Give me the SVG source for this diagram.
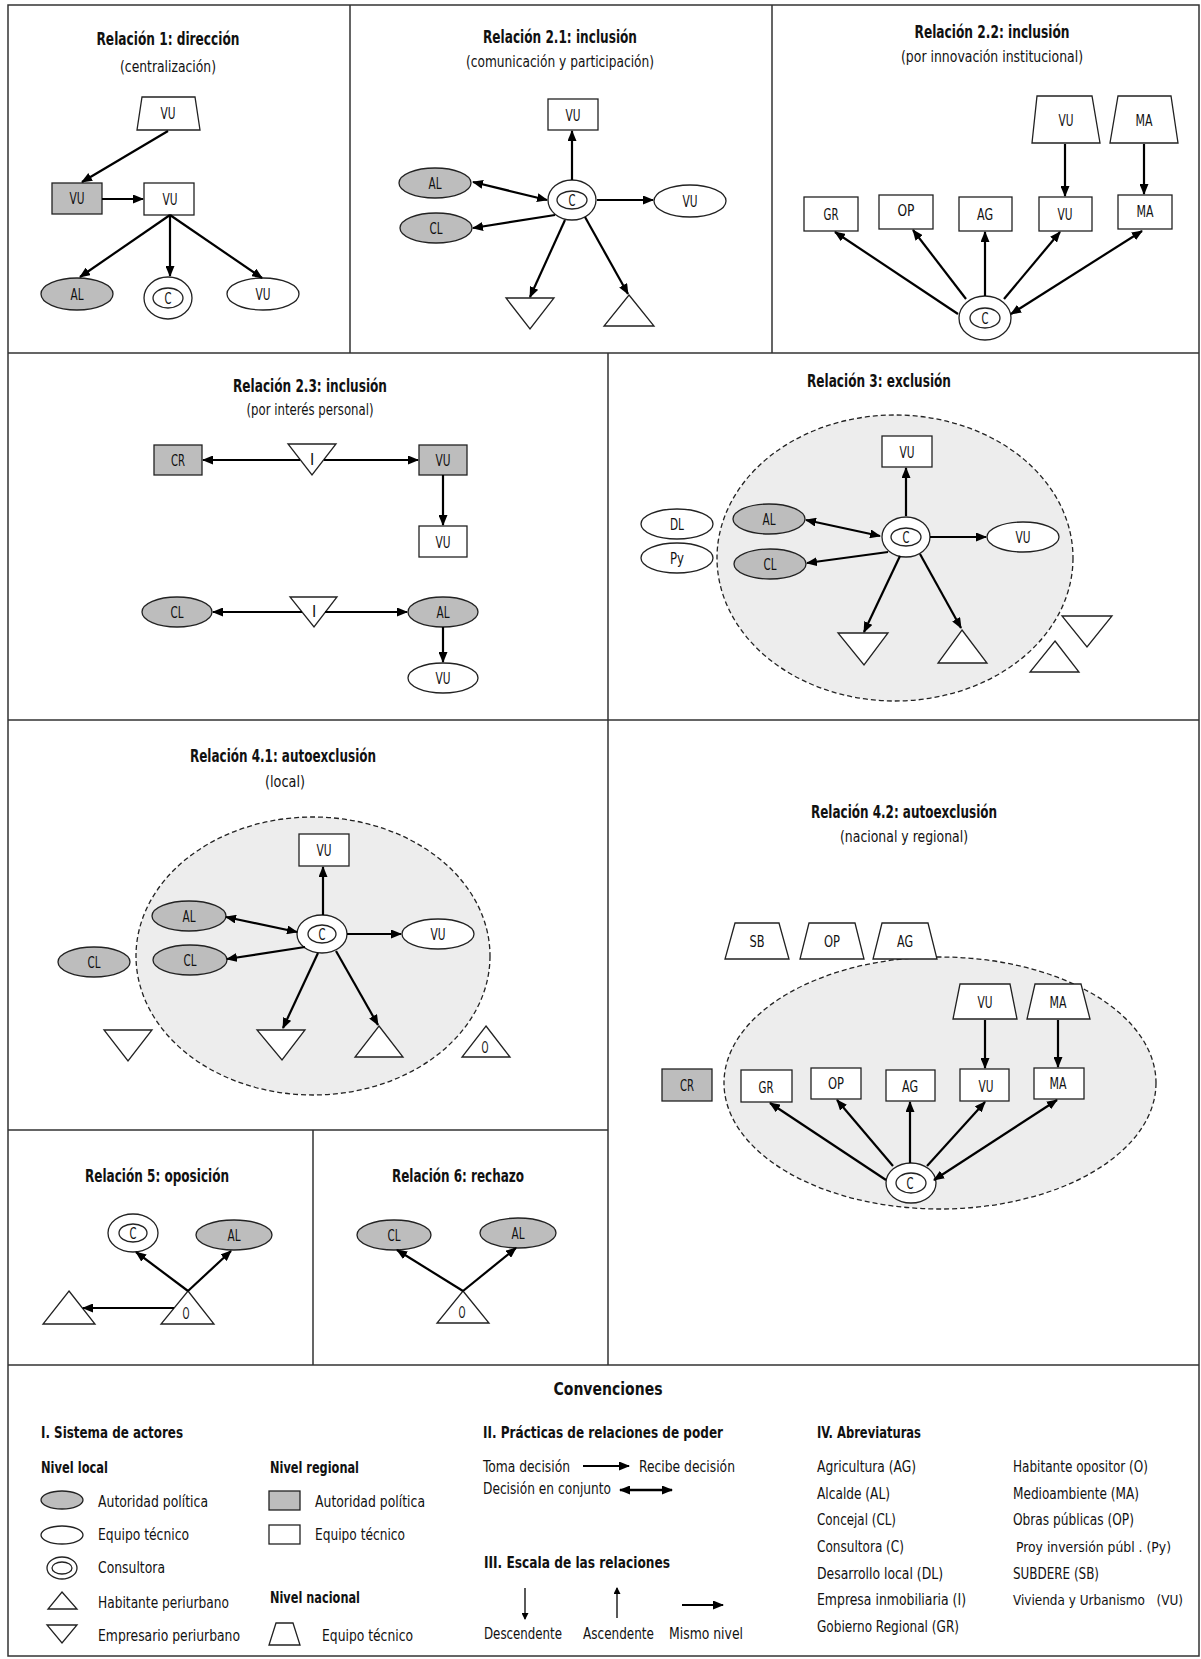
<svg xmlns="http://www.w3.org/2000/svg" width="1201" height="1659" viewBox="0 0 1201 1659">
<style>
.frame{fill:none;stroke:#333;stroke-width:1.5}
.n{fill:#fff;stroke:#222;stroke-width:1.3}
.g{fill:#bdbdbd;stroke:#222;stroke-width:1.3}
.zone{fill:#ededed;stroke:#222;stroke-width:1.3;stroke-dasharray:5 3}
.e{fill:none;stroke:#000;stroke-width:2.2;marker-end:url(#ah)}
.b{fill:none;stroke:#000;stroke-width:2.2;marker-start:url(#ahs);marker-end:url(#ah)}
.s{fill:none;stroke:#000;stroke-width:1.3;marker-end:url(#ahsm)}
text{font-family:"Liberation Sans Narrow","DejaVu Sans Condensed","Liberation Sans",sans-serif;fill:#111}
.l{font-size:16px;text-anchor:middle}
.ti{font-size:17px;font-weight:bold;text-anchor:middle}
.su{font-size:15px;text-anchor:middle}
.lg{font-size:15.5px}
.lh{font-size:16.5px;font-weight:bold}
.lh2{font-size:15.5px;font-weight:bold}
</style>
<defs>
<marker id="ah" markerUnits="userSpaceOnUse" markerWidth="11" markerHeight="9" refX="10" refY="4.5" orient="auto"><path d="M0,0 L11,4.5 L0,9 z" fill="#000"/></marker>
<marker id="ahs" markerUnits="userSpaceOnUse" markerWidth="11" markerHeight="9" refX="10" refY="4.5" orient="auto-start-reverse"><path d="M0,0 L11,4.5 L0,9 z" fill="#000"/></marker>
<marker id="ahsm" markerUnits="userSpaceOnUse" markerWidth="7" markerHeight="7" refX="6" refY="3.5" orient="auto"><path d="M0,0 L7,3.5 L0,7 z" fill="#000"/></marker>
</defs>
<rect width="1201" height="1659" fill="#fff"/>

<g id="frame">
<rect class="frame" x="8" y="5" width="1191" height="1651"/>
<path class="frame" d="M8,353H1199M350,5V353M772,5V353M8,720H1199M608,353V1365M8,1130H608M313,1130V1365M8,1365H1199"/>
</g>

<g id="titles">
<text class="ti" x="168" y="45" textLength="143" lengthAdjust="spacingAndGlyphs">Relación 1: dirección</text>
<text class="su" x="168" y="72" textLength="96" lengthAdjust="spacingAndGlyphs">(centralización)</text>
<text class="ti" x="560" y="43" textLength="154" lengthAdjust="spacingAndGlyphs">Relación 2.1: inclusión</text>
<text class="su" x="560" y="67" textLength="188" lengthAdjust="spacingAndGlyphs">(comunicación y participación)</text>
<text class="ti" x="992" y="38" textLength="155" lengthAdjust="spacingAndGlyphs">Relación 2.2: inclusión</text>
<text class="su" x="992" y="62" textLength="182" lengthAdjust="spacingAndGlyphs">(por innovación institucional)</text>
<text class="ti" x="310" y="392" textLength="154" lengthAdjust="spacingAndGlyphs">Relación 2.3: inclusión</text>
<text class="su" x="310" y="415" textLength="127" lengthAdjust="spacingAndGlyphs">(por interés personal)</text>
<text class="ti" x="879" y="387" textLength="144" lengthAdjust="spacingAndGlyphs">Relación 3: exclusión</text>
<text class="ti" x="283" y="762" textLength="186" lengthAdjust="spacingAndGlyphs">Relación 4.1: autoexclusión</text>
<text class="su" x="285" y="787" textLength="40" lengthAdjust="spacingAndGlyphs">(local)</text>
<text class="ti" x="904" y="818" textLength="186" lengthAdjust="spacingAndGlyphs">Relación 4.2: autoexclusión</text>
<text class="su" x="904" y="842" textLength="128" lengthAdjust="spacingAndGlyphs">(nacional y regional)</text>
<text class="ti" x="157" y="1182" textLength="144" lengthAdjust="spacingAndGlyphs">Relación 5: oposición</text>
<text class="ti" x="458" y="1182" textLength="132" lengthAdjust="spacingAndGlyphs">Relación 6: rechazo</text>
</g>

<g id="zones">
<ellipse class="zone" cx="895" cy="558" rx="178" ry="143"/>
<ellipse class="zone" cx="313" cy="956" rx="177" ry="139"/>
<ellipse class="zone" cx="940" cy="1083" rx="216" ry="126"/>
</g>

<!-- Relación 1 -->
<g id="r1-vu-nac"><polygon class="n" points="142,97 195,97 200,130 137,130"/><text class="l" x="168" y="119" textLength="15" lengthAdjust="spacingAndGlyphs">VU</text></g>
<g id="r1-vu-reg-gray"><rect class="g" x="52" y="183" width="50" height="31"/><text class="l" x="77" y="204" textLength="15" lengthAdjust="spacingAndGlyphs">VU</text></g>
<g id="r1-vu-reg"><rect class="n" x="144" y="183" width="50" height="32"/><text class="l" x="170" y="205" textLength="15" lengthAdjust="spacingAndGlyphs">VU</text></g>
<g id="r1-al"><ellipse class="g" cx="77" cy="294" rx="36" ry="16"/><text class="l" x="77" y="300" textLength="13" lengthAdjust="spacingAndGlyphs">AL</text></g>
<g id="r1-c"><ellipse class="n" cx="168" cy="298" rx="24" ry="21"/><ellipse class="n" cx="168" cy="298" rx="15" ry="10"/><text class="l" x="168" y="304" textLength="7" lengthAdjust="spacingAndGlyphs">C</text></g>
<g id="r1-vu-loc"><ellipse class="n" cx="263" cy="294" rx="36" ry="16"/><text class="l" x="263" y="300" textLength="15" lengthAdjust="spacingAndGlyphs">VU</text></g>

<!-- Relación 2.1 -->
<g id="r21-vu-reg"><rect class="n" x="548" y="99" width="50" height="31"/><text class="l" x="573" y="121" textLength="15" lengthAdjust="spacingAndGlyphs">VU</text></g>
<g id="r21-c"><ellipse class="n" cx="572" cy="200" rx="24" ry="20"/><ellipse class="n" cx="572" cy="200" rx="15" ry="9"/><text class="l" x="572" y="206" textLength="7" lengthAdjust="spacingAndGlyphs">C</text></g>
<g id="r21-al"><ellipse class="g" cx="435" cy="183" rx="36" ry="15"/><text class="l" x="435" y="189" textLength="13" lengthAdjust="spacingAndGlyphs">AL</text></g>
<g id="r21-cl"><ellipse class="g" cx="436" cy="228" rx="36" ry="15"/><text class="l" x="436" y="234" textLength="13" lengthAdjust="spacingAndGlyphs">CL</text></g>
<g id="r21-vu-loc"><ellipse class="n" cx="690" cy="201" rx="36" ry="16"/><text class="l" x="690" y="207" textLength="15" lengthAdjust="spacingAndGlyphs">VU</text></g>
<g id="r21-emp"><polygon class="n" points="506,298 554,298 530,329"/></g>
<g id="r21-hab"><polygon class="n" points="629,295 654,326 604,326"/></g>

<!-- Relación 2.2 -->
<g id="r22-vu-nac"><polygon class="n" points="1037,96 1092,96 1100,143 1032,143"/><text class="l" x="1066" y="126" textLength="15" lengthAdjust="spacingAndGlyphs">VU</text></g>
<g id="r22-ma-nac"><polygon class="n" points="1118,96 1171,96 1178,143 1110,143"/><text class="l" x="1144" y="126" textLength="17" lengthAdjust="spacingAndGlyphs">MA</text></g>
<g id="r22-gr"><rect class="n" x="804" y="197" width="54" height="34"/><text class="l" x="831" y="220" textLength="15" lengthAdjust="spacingAndGlyphs">GR</text></g>
<g id="r22-op"><rect class="n" x="879" y="195" width="54" height="34"/><text class="l" x="906" y="216" textLength="17" lengthAdjust="spacingAndGlyphs">OP</text></g>
<g id="r22-ag"><rect class="n" x="959" y="197" width="53" height="34"/><text class="l" x="985" y="220" textLength="16" lengthAdjust="spacingAndGlyphs">AG</text></g>
<g id="r22-vu"><rect class="n" x="1039" y="197" width="53" height="34"/><text class="l" x="1065" y="220" textLength="15" lengthAdjust="spacingAndGlyphs">VU</text></g>
<g id="r22-ma"><rect class="n" x="1118" y="195" width="54" height="34"/><text class="l" x="1145" y="217" textLength="17" lengthAdjust="spacingAndGlyphs">MA</text></g>
<g id="r22-c"><ellipse class="n" cx="985" cy="318" rx="26" ry="22"/><ellipse class="n" cx="985" cy="318" rx="15" ry="10"/><text class="l" x="985" y="324" textLength="7" lengthAdjust="spacingAndGlyphs">C</text></g>

<!-- Relación 2.3 -->
<g id="r23-cr"><rect class="g" x="154" y="445" width="48" height="30"/><text class="l" x="178" y="466" textLength="14" lengthAdjust="spacingAndGlyphs">CR</text></g>
<g id="r23-i1"><polygon class="n" points="288,444 336,444 312,475"/><text class="l" x="312" y="465">I</text></g>
<g id="r23-vu-gray"><rect class="g" x="419" y="445" width="48" height="30"/><text class="l" x="443" y="466" textLength="15" lengthAdjust="spacingAndGlyphs">VU</text></g>
<g id="r23-vu-reg"><rect class="n" x="419" y="526" width="48" height="31"/><text class="l" x="443" y="548" textLength="15" lengthAdjust="spacingAndGlyphs">VU</text></g>
<g id="r23-cl"><ellipse class="g" cx="177" cy="612" rx="35" ry="15"/><text class="l" x="177" y="618" textLength="13" lengthAdjust="spacingAndGlyphs">CL</text></g>
<g id="r23-i2"><polygon class="n" points="290,597 337,597 314,627"/><text class="l" x="314" y="617">I</text></g>
<g id="r23-al"><ellipse class="g" cx="443" cy="612" rx="35" ry="15"/><text class="l" x="443" y="618" textLength="13" lengthAdjust="spacingAndGlyphs">AL</text></g>
<g id="r23-vu-loc"><ellipse class="n" cx="443" cy="678" rx="35" ry="15"/><text class="l" x="443" y="684" textLength="15" lengthAdjust="spacingAndGlyphs">VU</text></g>

<!-- Relación 3 -->
<g id="r3-vu-reg"><rect class="n" x="882" y="436" width="50" height="31"/><text class="l" x="907" y="458" textLength="15" lengthAdjust="spacingAndGlyphs">VU</text></g>
<g id="r3-c"><ellipse class="n" cx="906" cy="537" rx="24" ry="20"/><ellipse class="n" cx="906" cy="537" rx="15" ry="9"/><text class="l" x="906" y="543" textLength="7" lengthAdjust="spacingAndGlyphs">C</text></g>
<g id="r3-al"><ellipse class="g" cx="769" cy="519" rx="36" ry="15"/><text class="l" x="769" y="525" textLength="13" lengthAdjust="spacingAndGlyphs">AL</text></g>
<g id="r3-cl"><ellipse class="g" cx="770" cy="564" rx="36" ry="15"/><text class="l" x="770" y="570" textLength="13" lengthAdjust="spacingAndGlyphs">CL</text></g>
<g id="r3-vu-loc"><ellipse class="n" cx="1023" cy="537" rx="36" ry="15"/><text class="l" x="1023" y="543" textLength="15" lengthAdjust="spacingAndGlyphs">VU</text></g>
<g id="r3-emp"><polygon class="n" points="838,633 888,633 864,665"/></g>
<g id="r3-hab"><polygon class="n" points="962,630 987,663 938,663"/></g>
<g id="r3-dl"><ellipse class="n" cx="677" cy="524" rx="36" ry="15"/><text class="l" x="677" y="530" textLength="14" lengthAdjust="spacingAndGlyphs">DL</text></g>
<g id="r3-py"><ellipse class="n" cx="677" cy="558" rx="36" ry="15"/><text class="l" x="677" y="564" textLength="14" lengthAdjust="spacingAndGlyphs">Py</text></g>
<g id="r3-emp-out"><polygon class="n" points="1062,616 1112,616 1087,647"/></g>
<g id="r3-hab-out"><polygon class="n" points="1055,641 1079,672 1030,672"/></g>

<!-- Relación 4.1 -->
<g id="r41-vu-reg"><rect class="n" x="299" y="834" width="50" height="32"/><text class="l" x="324" y="856" textLength="15" lengthAdjust="spacingAndGlyphs">VU</text></g>
<g id="r41-c"><ellipse class="n" cx="322" cy="934" rx="25" ry="19"/><ellipse class="n" cx="322" cy="934" rx="14" ry="9"/><text class="l" x="322" y="940" textLength="7" lengthAdjust="spacingAndGlyphs">C</text></g>
<g id="r41-al"><ellipse class="g" cx="189" cy="916" rx="37" ry="15"/><text class="l" x="189" y="922" textLength="13" lengthAdjust="spacingAndGlyphs">AL</text></g>
<g id="r41-cl"><ellipse class="g" cx="190" cy="960" rx="37" ry="15"/><text class="l" x="190" y="966" textLength="13" lengthAdjust="spacingAndGlyphs">CL</text></g>
<g id="r41-vu-loc"><ellipse class="n" cx="438" cy="934" rx="36" ry="15"/><text class="l" x="438" y="940" textLength="15" lengthAdjust="spacingAndGlyphs">VU</text></g>
<g id="r41-emp"><polygon class="n" points="257,1030 305,1030 282,1060"/></g>
<g id="r41-hab"><polygon class="n" points="379,1026 403,1057 355,1057"/></g>
<g id="r41-cl-out"><ellipse class="g" cx="94" cy="962" rx="36" ry="15"/><text class="l" x="94" y="968" textLength="13" lengthAdjust="spacingAndGlyphs">CL</text></g>
<g id="r41-emp-out"><polygon class="n" points="104,1030 152,1030 128,1061"/></g>
<g id="r41-o"><polygon class="n" points="486,1026 510,1057 462,1057"/><text class="l" x="485" y="1053" textLength="7" lengthAdjust="spacingAndGlyphs">O</text></g>

<!-- Relación 4.2 -->
<g id="r42-sb"><polygon class="n" points="735,923 779,923 789,959 725,959"/><text class="l" x="757" y="947" textLength="15" lengthAdjust="spacingAndGlyphs">SB</text></g>
<g id="r42-op-nac"><polygon class="n" points="809,923 855,923 864,959 800,959"/><text class="l" x="832" y="947" textLength="16" lengthAdjust="spacingAndGlyphs">OP</text></g>
<g id="r42-ag-nac"><polygon class="n" points="882,923 928,923 937,959 873,959"/><text class="l" x="905" y="947" textLength="16" lengthAdjust="spacingAndGlyphs">AG</text></g>
<g id="r42-vu-nac"><polygon class="n" points="960,984 1010,984 1017,1019 953,1019"/><text class="l" x="985" y="1008" textLength="15" lengthAdjust="spacingAndGlyphs">VU</text></g>
<g id="r42-ma-nac"><polygon class="n" points="1035,984 1081,984 1090,1019 1027,1019"/><text class="l" x="1058" y="1008" textLength="17" lengthAdjust="spacingAndGlyphs">MA</text></g>
<g id="r42-cr"><rect class="g" x="662" y="1069" width="50" height="32"/><text class="l" x="687" y="1091" textLength="14" lengthAdjust="spacingAndGlyphs">CR</text></g>
<g id="r42-gr"><rect class="n" x="741" y="1070" width="51" height="32"/><text class="l" x="766" y="1093" textLength="15" lengthAdjust="spacingAndGlyphs">GR</text></g>
<g id="r42-op"><rect class="n" x="811" y="1068" width="50" height="31"/><text class="l" x="836" y="1089" textLength="16" lengthAdjust="spacingAndGlyphs">OP</text></g>
<g id="r42-ag"><rect class="n" x="886" y="1070" width="49" height="31"/><text class="l" x="910" y="1092" textLength="16" lengthAdjust="spacingAndGlyphs">AG</text></g>
<g id="r42-vu"><rect class="n" x="960" y="1069" width="49" height="32"/><text class="l" x="986" y="1092" textLength="15" lengthAdjust="spacingAndGlyphs">VU</text></g>
<g id="r42-ma"><rect class="n" x="1034" y="1068" width="50" height="31"/><text class="l" x="1058" y="1089" textLength="17" lengthAdjust="spacingAndGlyphs">MA</text></g>
<g id="r42-c"><ellipse class="n" cx="911" cy="1183" rx="25" ry="20"/><ellipse class="n" cx="911" cy="1183" rx="15" ry="10"/><text class="l" x="910" y="1189" textLength="7" lengthAdjust="spacingAndGlyphs">C</text></g>

<!-- Relación 5 -->
<g id="r5-c"><ellipse class="n" cx="133" cy="1233" rx="25" ry="19"/><ellipse class="n" cx="133" cy="1233" rx="14" ry="9"/><text class="l" x="133" y="1239" textLength="7" lengthAdjust="spacingAndGlyphs">C</text></g>
<g id="r5-al"><ellipse class="g" cx="234" cy="1235" rx="38" ry="15"/><text class="l" x="234" y="1241" textLength="13" lengthAdjust="spacingAndGlyphs">AL</text></g>
<g id="r5-o"><polygon class="n" points="188,1291 214,1324 161,1324"/><text class="l" x="186" y="1319" textLength="7" lengthAdjust="spacingAndGlyphs">O</text></g>
<g id="r5-hab"><polygon class="n" points="69,1291 95,1324 43,1324"/></g>

<!-- Relación 6 -->
<g id="r6-cl"><ellipse class="g" cx="394" cy="1235" rx="37" ry="15"/><text class="l" x="394" y="1241" textLength="13" lengthAdjust="spacingAndGlyphs">CL</text></g>
<g id="r6-al"><ellipse class="g" cx="518" cy="1233" rx="38" ry="15"/><text class="l" x="518" y="1239" textLength="13" lengthAdjust="spacingAndGlyphs">AL</text></g>
<g id="r6-o"><polygon class="n" points="463,1291 489,1323 437,1323"/><text class="l" x="462" y="1318" textLength="7" lengthAdjust="spacingAndGlyphs">O</text></g>

<g id="connectors">
<!-- R1 -->
<line class="e" x1="168" y1="131" x2="82" y2="182"/>
<line class="e" x1="102" y1="199" x2="143" y2="199"/>
<line class="e" x1="170" y1="215" x2="80" y2="277"/>
<line class="e" x1="170" y1="215" x2="170" y2="276"/>
<line class="e" x1="170" y1="215" x2="262" y2="278"/>
<!-- R2.1 -->
<line class="e" x1="572" y1="180" x2="572" y2="131"/>
<line class="b" x1="473" y1="182" x2="547" y2="200"/>
<line class="e" x1="555" y1="215" x2="473" y2="228"/>
<line class="e" x1="597" y1="200" x2="653" y2="200"/>
<line class="e" x1="565" y1="220" x2="530" y2="297"/>
<line class="e" x1="585" y1="217" x2="628" y2="294"/>
<!-- R2.2 -->
<line class="e" x1="1065" y1="144" x2="1065" y2="196"/>
<line class="e" x1="1144" y1="144" x2="1144" y2="194"/>
<line class="e" x1="958" y1="314" x2="835" y2="232"/>
<line class="e" x1="966" y1="299" x2="913" y2="230"/>
<line class="e" x1="985" y1="296" x2="985" y2="232"/>
<line class="e" x1="1004" y1="299" x2="1060" y2="232"/>
<line class="b" x1="1011" y1="314" x2="1142" y2="231"/>
<!-- R2.3 -->
<line class="e" x1="300" y1="460" x2="203" y2="460"/>
<line class="e" x1="324" y1="460" x2="418" y2="460"/>
<line class="e" x1="443" y1="475" x2="443" y2="525"/>
<line class="e" x1="302" y1="612" x2="213" y2="612"/>
<line class="e" x1="325" y1="612" x2="407" y2="612"/>
<line class="e" x1="443" y1="627" x2="443" y2="662"/>
<!-- R3 -->
<line class="e" x1="906" y1="516" x2="906" y2="468"/>
<line class="b" x1="806" y1="520" x2="880" y2="536"/>
<line class="e" x1="888" y1="552" x2="807" y2="563"/>
<line class="e" x1="930" y1="537" x2="986" y2="537"/>
<line class="e" x1="900" y1="556" x2="864" y2="632"/>
<line class="e" x1="920" y1="554" x2="961" y2="628"/>
<!-- R4.1 -->
<line class="e" x1="323" y1="915" x2="323" y2="867"/>
<line class="b" x1="226" y1="917" x2="297" y2="932"/>
<line class="e" x1="305" y1="947" x2="227" y2="959"/>
<line class="e" x1="347" y1="934" x2="401" y2="934"/>
<line class="e" x1="318" y1="953" x2="283" y2="1028"/>
<line class="e" x1="336" y1="951" x2="378" y2="1025"/>
<!-- R4.2 -->
<line class="e" x1="985" y1="1020" x2="985" y2="1068"/>
<line class="e" x1="1058" y1="1020" x2="1058" y2="1067"/>
<line class="e" x1="886" y1="1180" x2="770" y2="1103"/>
<line class="e" x1="893" y1="1166" x2="837" y2="1100"/>
<line class="e" x1="910" y1="1163" x2="910" y2="1102"/>
<line class="e" x1="927" y1="1166" x2="985" y2="1102"/>
<line class="b" x1="934" y1="1180" x2="1057" y2="1100"/>
<!-- R5 -->
<line class="e" x1="188" y1="1291" x2="136" y2="1252"/>
<line class="e" x1="188" y1="1291" x2="231" y2="1251"/>
<line class="e" x1="174" y1="1308" x2="83" y2="1308"/>
<!-- R6 -->
<line class="e" x1="463" y1="1291" x2="397" y2="1250"/>
<line class="e" x1="463" y1="1291" x2="516" y2="1248"/>
</g>

<g id="legend">
<text class="ti" x="608" y="1395" textLength="109" lengthAdjust="spacingAndGlyphs">Convenciones</text>
<text class="lh" x="41" y="1438" textLength="142" lengthAdjust="spacingAndGlyphs">I. Sistema de actores</text>
<text class="lh2" x="41" y="1473" textLength="67" lengthAdjust="spacingAndGlyphs">Nivel local</text>
<ellipse class="g" cx="62" cy="1500" rx="21" ry="9"/>
<text class="lg" x="98" y="1507" textLength="110" lengthAdjust="spacingAndGlyphs">Autoridad política</text>
<ellipse class="n" cx="62" cy="1535" rx="21" ry="9"/>
<text class="lg" x="98" y="1540" textLength="91" lengthAdjust="spacingAndGlyphs">Equipo técnico</text>
<ellipse class="n" cx="62" cy="1568" rx="15" ry="11"/><ellipse class="n" cx="62" cy="1568" rx="10" ry="6"/>
<text class="lg" x="98" y="1573" textLength="67" lengthAdjust="spacingAndGlyphs">Consultora</text>
<polygon class="n" points="62,1592 77,1609 48,1609"/>
<text class="lg" x="98" y="1608" textLength="131" lengthAdjust="spacingAndGlyphs">Habitante periurbano</text>
<polygon class="n" points="47,1625 77,1625 62,1643"/>
<text class="lg" x="98" y="1641" textLength="142" lengthAdjust="spacingAndGlyphs">Empresario periurbano</text>
<text class="lh2" x="270" y="1473" textLength="89" lengthAdjust="spacingAndGlyphs">Nivel regional</text>
<rect class="g" x="269" y="1491" width="31" height="19"/>
<text class="lg" x="315" y="1507" textLength="110" lengthAdjust="spacingAndGlyphs">Autoridad política</text>
<rect class="n" x="269" y="1525" width="31" height="19"/>
<text class="lg" x="315" y="1540" textLength="90" lengthAdjust="spacingAndGlyphs">Equipo técnico</text>
<text class="lh2" x="270" y="1603" textLength="90" lengthAdjust="spacingAndGlyphs">Nivel nacional</text>
<polygon class="n" points="276,1623 293,1623 300,1645 269,1645"/>
<text class="lg" x="322" y="1641" textLength="91" lengthAdjust="spacingAndGlyphs">Equipo técnico</text>

<text class="lh" x="483" y="1438" textLength="240" lengthAdjust="spacingAndGlyphs">II. Prácticas de relaciones de poder</text>
<text class="lg" x="483" y="1472" textLength="87" lengthAdjust="spacingAndGlyphs">Toma decisión</text>
<line class="e" x1="583" y1="1466" x2="629" y2="1466" style="stroke-width:2"/>
<text class="lg" x="639" y="1472" textLength="96" lengthAdjust="spacingAndGlyphs">Recibe decisión</text>
<text class="lg" x="483" y="1494" textLength="128" lengthAdjust="spacingAndGlyphs">Decisión en conjunto</text>
<line class="b" x1="620" y1="1490" x2="672" y2="1490" style="stroke-width:2.4"/>
<text class="lh" x="484" y="1568" textLength="186" lengthAdjust="spacingAndGlyphs">III. Escala de las relaciones</text>
<line class="s" x1="525" y1="1588" x2="525" y2="1619"/>
<line class="s" x1="617" y1="1618" x2="617" y2="1588"/>
<line class="e" x1="682" y1="1605" x2="723" y2="1605" style="stroke-width:2"/>
<text class="lg" x="484" y="1639" textLength="78" lengthAdjust="spacingAndGlyphs">Descendente</text>
<text class="lg" x="583" y="1639" textLength="71" lengthAdjust="spacingAndGlyphs">Ascendente</text>
<text class="lg" x="669" y="1639" textLength="74" lengthAdjust="spacingAndGlyphs">Mismo nivel</text>

<text class="lh" x="817" y="1438" textLength="104" lengthAdjust="spacingAndGlyphs">IV. Abreviaturas</text>
<text class="lg" x="817" y="1472" textLength="99" lengthAdjust="spacingAndGlyphs">Agricultura (AG)</text>
<text class="lg" x="817" y="1499" textLength="73" lengthAdjust="spacingAndGlyphs">Alcalde (AL)</text>
<text class="lg" x="817" y="1525" textLength="79" lengthAdjust="spacingAndGlyphs">Concejal (CL)</text>
<text class="lg" x="817" y="1552" textLength="87" lengthAdjust="spacingAndGlyphs">Consultora (C)</text>
<text class="lg" x="817" y="1579" textLength="126" lengthAdjust="spacingAndGlyphs">Desarrollo local (DL)</text>
<text class="lg" x="817" y="1605" textLength="149" lengthAdjust="spacingAndGlyphs">Empresa inmobiliaria (I)</text>
<text class="lg" x="817" y="1632" textLength="142" lengthAdjust="spacingAndGlyphs">Gobierno Regional (GR)</text>
<text class="lg" x="1013" y="1472" textLength="135" lengthAdjust="spacingAndGlyphs">Habitante opositor (O)</text>
<text class="lg" x="1013" y="1499" textLength="126" lengthAdjust="spacingAndGlyphs">Medioambiente (MA)</text>
<text class="lg" x="1013" y="1525" textLength="121" lengthAdjust="spacingAndGlyphs">Obras públicas (OP)</text>
<text class="lg" x="1016" y="1552" textLength="155" lengthAdjust="spacingAndGlyphs" style="font-size:14px">Proy inversión públ . (Py)</text>
<text class="lg" x="1013" y="1579" textLength="86" lengthAdjust="spacingAndGlyphs">SUBDERE (SB)</text>
<text class="lg" x="1013" y="1605" textLength="170" lengthAdjust="spacingAndGlyphs" xml:space="preserve" style="font-size:13.5px">Vivienda y Urbanismo   (VU)</text>
</g>
</svg>
